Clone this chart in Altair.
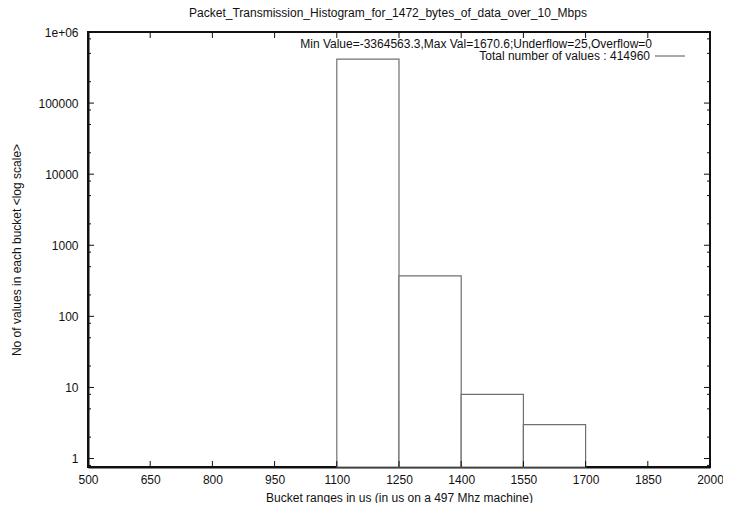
import altair as alt
import pandas as pd

# ---- data ----
bin_start = [1100, 1250, 1400, 1550]
bin_end = [1250, 1400, 1550, 1700]
counts = [414554, 370, 8, 3]

x_ticks = [500, 650, 800, 950, 1100, 1250, 1400, 1550, 1700, 1850, 2000]
y_major = [1, 10, 100, 1000, 10000, 100000, 1000000]
y_minor = [0.8, 2, 5, 8, 20, 50, 80, 200, 500, 800, 2000, 5000, 8000,
           20000, 50000, 80000, 200000, 500000, 800000]

title_text = "Packet_Transmission_Histogram_for_1472_bytes_of_data_over_10_Mbps"
x_title = "Bucket ranges in us (in us on a 497 Mhz machine)"
y_title = "No of values in each bucket <log scale>"
stats_text = "Min Value=-3364563.3,Max Val=1670.6;Underflow=25,Overflow=0"
legend_text = "Total number of values : 414960"

W, H = 622, 435
FONT = "Liberation Sans"
YMIN = 0.76

xs = alt.Scale(domain=[500, 2000], nice=False, zero=False)
ys = alt.Scale(type="log", domain=[YMIN, 1e6], nice=False)

hist = pd.DataFrame({"start": bin_start, "end": bin_end, "count": counts})

bars = alt.Chart(hist).mark_rect(fill="white", stroke="#707070", strokeWidth=1.2).encode(
    x=alt.X("start:Q", scale=xs, title=x_title,
            axis=alt.Axis(values=x_ticks, format="d", ticks=False, labelPadding=7,
                          labelFontSize=12, labelFont=FONT, labelColor="#111",
                          domainColor="#111", domainWidth=2,
                          titleFont=FONT, titleFontSize=12, titleFontWeight="normal",
                          titleColor="#111", titleY=30, titleBaseline="middle",
                          grid=False, labelFlush=False)),
    x2="end:Q",
    y=alt.Y("count:Q", scale=ys, title=y_title,
            axis=alt.Axis(values=y_major, ticks=False, labelPadding=10, labelFontSize=12,
                          labelFont=FONT, labelColor="#111", domainColor="#111", domainWidth=2,
                          labelExpr="datum.value >= 1000000 ? '1e+06' : format(datum.value, 'd')",
                          titleFont=FONT, titleFontSize=12, titleFontWeight="normal",
                          titleColor="#111", titleX=-72, titleY=H / 2, titleAngle=-90,
                          titleBaseline="middle", titleAlign="center", grid=False,
                          labelFlush=False)),
    y2=alt.datum(YMIN),
)

xt = pd.DataFrame({"start": x_ticks})
ymj = pd.DataFrame({"count": y_major})
ymn = pd.DataFrame({"count": y_minor})

tick_style = dict(color="#111", strokeWidth=1)

xb = alt.Chart(xt).mark_rule(**tick_style).encode(
    x=alt.X("start:Q", scale=xs, title=x_title), y=alt.value(H), y2=alt.value(H - 6))
xtp = alt.Chart(xt).mark_rule(**tick_style).encode(
    x=alt.X("start:Q", scale=xs, title=x_title), y=alt.value(0), y2=alt.value(6))
yl = alt.Chart(ymj).mark_rule(**tick_style).encode(
    y=alt.Y("count:Q", scale=ys, title=y_title), x=alt.value(0), x2=alt.value(6))
yr = alt.Chart(ymj).mark_rule(**tick_style).encode(
    y=alt.Y("count:Q", scale=ys, title=y_title), x=alt.value(W), x2=alt.value(W - 6))
yln = alt.Chart(ymn).mark_rule(**tick_style).encode(
    y=alt.Y("count:Q", scale=ys, title=y_title), x=alt.value(0), x2=alt.value(3))
yrn = alt.Chart(ymn).mark_rule(**tick_style).encode(
    y=alt.Y("count:Q", scale=ys, title=y_title), x=alt.value(W), x2=alt.value(W - 3))

stats = alt.Chart(pd.DataFrame({"t": [stats_text]})).mark_text(
    align="right", baseline="middle", font=FONT, fontSize=12, color="#111").encode(
    text="t:N", x=alt.value(564), y=alt.value(12))
leg = alt.Chart(pd.DataFrame({"t": [legend_text]})).mark_text(
    align="right", baseline="middle", font=FONT, fontSize=12, color="#111").encode(
    text="t:N", x=alt.value(562), y=alt.value(24))
leg_line = alt.Chart(pd.DataFrame({"t": [legend_text]})).mark_rule(
    color="#555", strokeWidth=1).encode(
    x=alt.value(567), x2=alt.value(597), y=alt.value(24))

chart = alt.layer(bars, xb, xtp, yl, yr, yln, yrn, stats, leg, leg_line).properties(
    width=W, height=H,
    title=alt.TitleParams(title_text, anchor="middle", frame="group", dx=-11, offset=6,
                          font=FONT, fontSize=12, fontWeight="normal", color="#111"),
    autosize="none",
    padding={"left": 80, "top": 24, "right": 13, "bottom": 36},
    background="white",
).configure_view(stroke="#111", strokeWidth=2)

chart.save("out.html", embed_options={"renderer": "svg", "actions": False})
